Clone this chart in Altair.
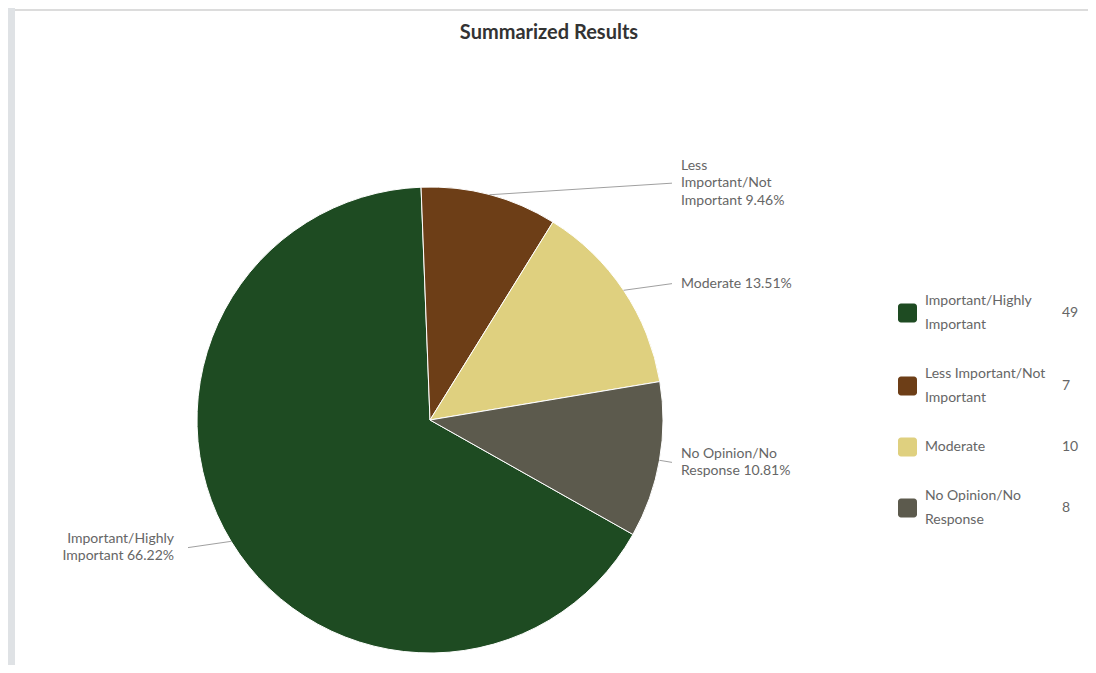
import math
import altair as alt
import pandas as pd

# ---- data ----
categories = [
    "Important/Highly Important",
    "Less Important/Not Important",
    "Moderate",
    "No Opinion/No Response",
]
counts = [49, 7, 10, 8]
colors = ["#1e4b22", "#6d3e17", "#dfd07f", "#5c5a4d"]
pie_sequence = [4, 1, 2, 3]          # clockwise order of slices from 12 o'clock
legend_index = [1, 2, 3, 4]
pie_labels = [
    "Important/Highly|Important",
    "Less|Important/Not|Important",
    "Moderate",
    "No Opinion/No|Response",
]
legend_labels = [
    "Important/Highly|Important",
    "Less Important/Not|Important",
    "Moderate",
    "No Opinion/No|Response",
]
title_text = "Summarized Results"

df = pd.DataFrame({
    "Category": categories,
    "Count": counts,
    "seq": pie_sequence,
    "legend_idx": legend_index,
    "pie_label": pie_labels,
    "legend_label": legend_labels,
})

# ---- layout constants ----
W, H = 1080, 657
CX, CY, R = 422, 412, 233
OFFSET = -0.0384
FONT = "Lato"
LABEL_COLOR = "#666666"
PIE_LH = 17.5
LEG_LH = 24
LEG_GAP = 25

base = alt.Chart(df)
color_scale = alt.Scale(domain=categories, range=colors)

pie = base.mark_arc(outerRadius=R, stroke="white", strokeWidth=1).encode(
    theta=alt.Theta("Count:Q", stack=True,
                    scale=alt.Scale(range=[OFFSET, OFFSET + 2 * math.pi])),
    color=alt.Color("Category:N", scale=color_scale, legend=None),
    order=alt.Order("seq:Q"),
    x=alt.value(CX),
    y=alt.value(CY),
)

geo = (
    base.transform_joinaggregate(total="sum(Count)")
    .transform_window(cum="sum(Count)", sort=[alt.SortField("seq")], frame=[None, 0])
    .transform_calculate(mid=f"{OFFSET} + 2*PI*(datum.cum - datum.Count/2)/datum.total")
    .transform_calculate(pct="format(datum.Count/datum.total*100, '.2f') + '%'")
    .transform_calculate(ex=f"{CX} + {R}*sin(datum.mid)")
    .transform_calculate(ey=f"{CY} - {R}*cos(datum.mid)")
    .transform_calculate(ly=f"{CY} - 245*cos(datum.mid)")
    .transform_calculate(side="sin(datum.mid) >= 0 ? 1 : -1")
    .transform_calculate(cx2=f"{CX} + datum.side*242")
    .transform_calculate(tx=f"{CX} + (datum.side > 0 ? 251 : -256)")
    .transform_calculate(txt="split(datum.pie_label + ' ' + datum.pct, '|')")
    .transform_calculate(ty=f"datum.ly - (length(datum.txt) - 1)*{PIE_LH}/2")
)

connectors = geo.mark_rule(color="#a0a0a0", strokeWidth=1).encode(
    x=alt.X("ex:Q", scale=None),
    y=alt.Y("ey:Q", scale=None),
    x2="cx2:Q",
    y2="ly:Q",
)

label_style = dict(baseline="middle", fontSize=14, font=FONT, color=LABEL_COLOR, lineHeight=PIE_LH)
labels_right = geo.transform_filter("datum.side > 0").mark_text(align="left", **label_style).encode(
    x=alt.X("tx:Q", scale=None), y=alt.Y("ty:Q", scale=None), text="txt:N"
)
labels_left = geo.transform_filter("datum.side < 0").mark_text(align="right", **label_style).encode(
    x=alt.X("tx:Q", scale=None), y=alt.Y("ty:Q", scale=None), text="txt:N"
)

# ---- custom legend ----
leg = (
    base.transform_calculate(nlines="length(split(datum.legend_label, '|'))")
    .transform_window(cumlines="sum(nlines)", sort=[alt.SortField("legend_idx")], frame=[None, 0])
    .transform_calculate(
        gy=f"281 + {LEG_LH}*(datum.cumlines - datum.nlines/2) + {LEG_GAP}*(datum.legend_idx - 1)"
    )
    .transform_calculate(gy1="datum.gy - 9.5", gy2="datum.gy + 9.5")
    .transform_calculate(ltxt="split(datum.legend_label, '|')")
    .transform_calculate(gty=f"datum.gy - (datum.nlines - 1)*{LEG_LH}/2")
)

swatches = leg.mark_rect(cornerRadius=3).encode(
    x=alt.value(890), x2=alt.value(909),
    y=alt.Y("gy1:Q", scale=None), y2="gy2:Q",
    color=alt.Color("Category:N", scale=color_scale, legend=None),
)
legend_text = leg.mark_text(align="left", baseline="middle", fontSize=14, font=FONT,
                            color=LABEL_COLOR, lineHeight=LEG_LH).encode(
    x=alt.value(917), y=alt.Y("gty:Q", scale=None), text="ltxt:N"
)
legend_vals = leg.mark_text(align="left", baseline="middle", fontSize=14, font=FONT,
                            color=LABEL_COLOR).encode(
    x=alt.value(1054), y=alt.Y("gy:Q", scale=None), text="Count:Q"
)

# ---- title and page decorations ----
one = pd.DataFrame({"t": [title_text]})
title = alt.Chart(one).mark_text(fontSize=20, fontWeight="bold", font=FONT, color="#333333").encode(
    x=alt.value(541), y=alt.value(25), text="t:N"
)
strip = alt.Chart(one).mark_rect(color="#dfe2e5").encode(
    x=alt.value(0), x2=alt.value(7), y=alt.value(0), y2=alt.value(H)
)
topline = alt.Chart(one).mark_rule(color="#dcdcdc", strokeWidth=2).encode(
    x=alt.value(7), x2=alt.value(W), y=alt.value(2)
)

chart = (
    alt.layer(strip, topline, pie, connectors, labels_right, labels_left,
              swatches, legend_text, legend_vals, title)
    .properties(width=W, height=H, padding=0, autosize="none", background="white")
    .configure_view(stroke=None)
)

chart.save("out.html", embed_options={"renderer": "svg", "actions": False})
